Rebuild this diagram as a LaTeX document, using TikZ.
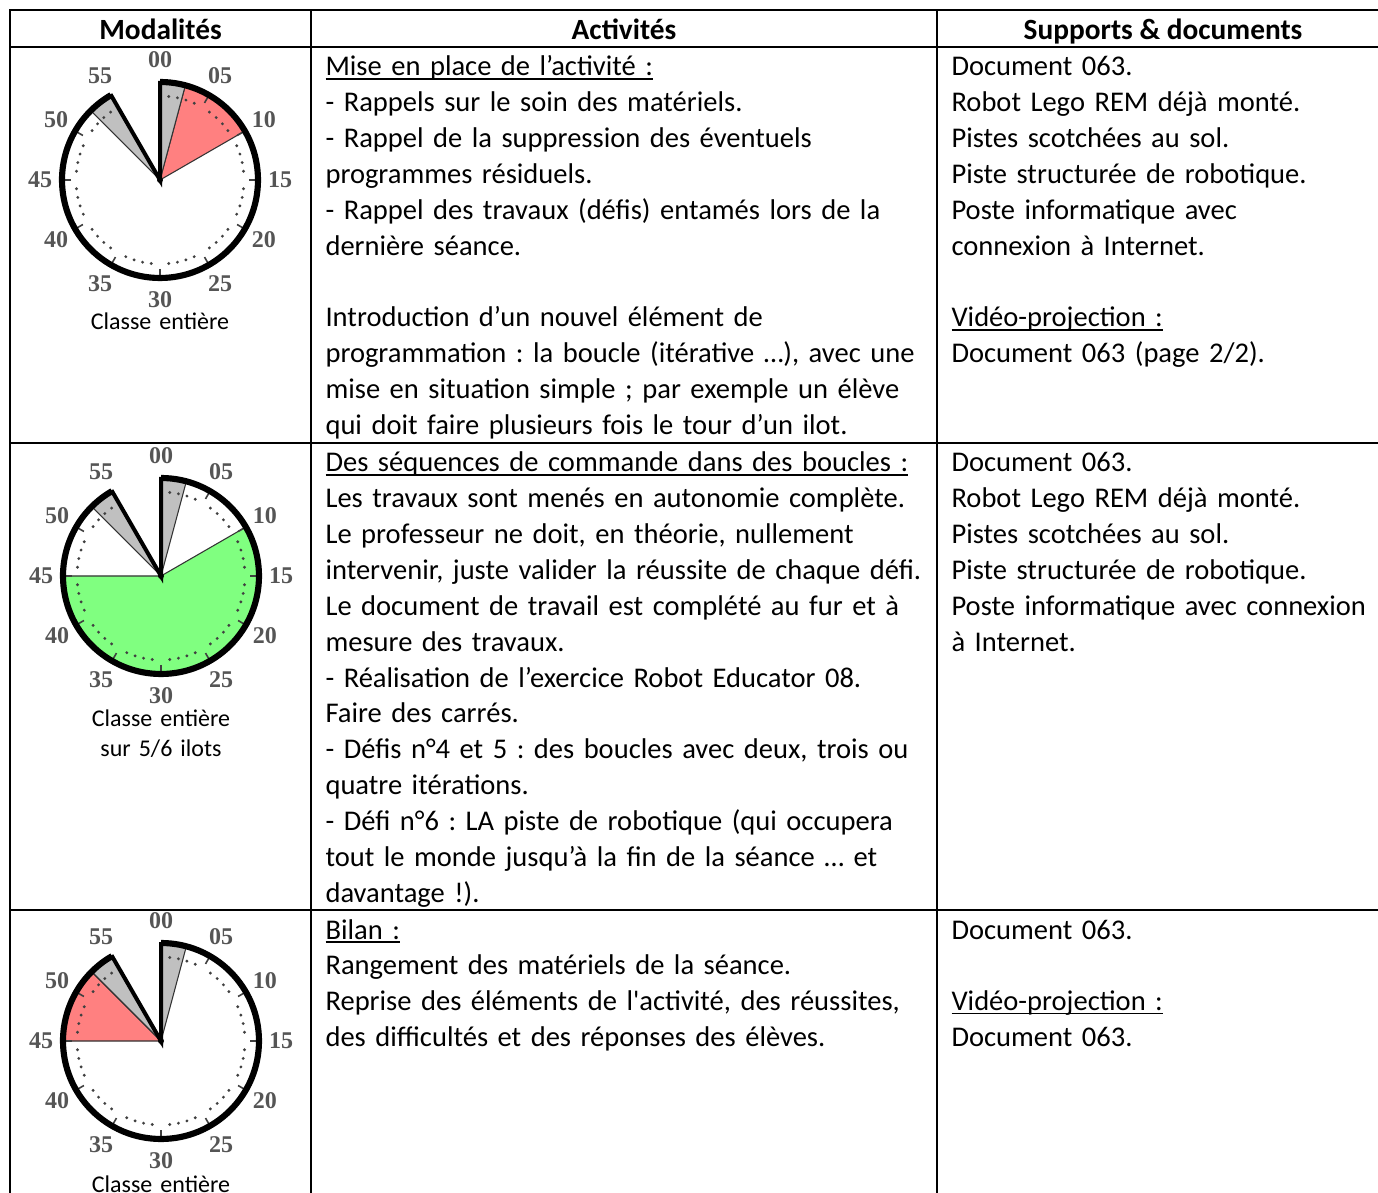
\documentclass[tikz,border=0pt]{standalone}
\usepackage{fontspec}
\setmainfont{Carlito}
\newfontfamily\chiffrefont{Liberation Serif}
\usepackage{tikz}
\usepackage{xcolor}
\frenchspacing

\definecolor{secteurrouge}{HTML}{FF8080}
\definecolor{secteurvert}{HTML}{80FF80}
\definecolor{secteurgris}{HTML}{C0C0C0}
\definecolor{chiffres}{HTML}{555555}

% texte souligne
\newlength{\soulignelg}
\newcommand{\souligne}[1]{\leavevmode\settowidth{\soulignelg}{#1}\rlap{\rule[-1.4pt]{\soulignelg}{0.55pt}}#1}

% minuteur : nom, centre, debut, fin (en minutes), couleur
\newcommand{\minuteur}[5]{%
  \begin{scope}[shift={(#2)}]
    \coordinate (#1) at (0,0);
    \fill[white] (0,0) -- (90:98) arc[start angle=90, end angle=-240, radius=98] -- cycle;
    \filldraw[fill=#5, secteur] (0,0) -- ({90-6*#3}:98)
      arc[start angle={90-6*#3}, end angle={90-6*#4}, radius=98] -- cycle;
    \filldraw[fill=secteurgris, secteur] (0,0) -- (90:98) arc[start angle=90, end angle=75, radius=98] -- cycle;
    \filldraw[fill=secteurgris, secteur] (0,0) -- (-225:98) arc[start angle=-225, end angle=-240, radius=98] -- cycle;
    \foreach \f in {0,5,...,50}
      \foreach \k in {1,2,3,4}
        \fill[black!75] ({90-6*(\f+\k)}:84) circle[radius=1.6];
    \foreach \m in {5,10,...,50}
      \draw[black!75, line width=0.6pt] ({90-6*\m}:89) -- ({90-6*\m}:98);
    \draw[line width=2.3pt] (90:98) arc[start angle=90, end angle=-240, radius=98];
    \draw[line width=1.5pt, line join=miter] (90:99) -- (0,0) -- (-240:99);
    \fill (0,0) circle[radius=3];
    \foreach \t [count=\i from 0] in {00,05,10,15,20,25,30,35,40,45,50,55}
      \node[clocknum] (#1-\t) at ({90-30*\i}:120) {\t};
  \end{scope}}

\begin{document}
\begin{tikzpicture}[
        x=0.375pt, y=0.375pt,
        rule/.style={line width=0.75pt},
        secteur/.style={draw=black!80, line width=0.4pt},
        clocknum/.style={
            inner sep=0pt,
            text=chiffres,
            font=\chiffrefont\bfseries\fontsize{9}{9}\selectfont
        },
        head/.style={
            inner sep=0pt,
            anchor=base,
            font=\fontsize{11}{13.44}\selectfont\bfseries
        },
        cell/.style={
            inner sep=0pt,
            anchor=base west,
            align=left,
            font=\fontsize{10.7}{13.44}\selectfont
        },
        caption/.style={
            inner sep=0pt,
            anchor=base,
            align=center,
            text width=120pt,
            font=\fontsize{9}{11}\selectfont
        }
    ]
    \useasboundingbox (0,0) rectangle (1378,-1193);

    % grille du tableau
    \draw[rule] (1378,-10) -- (10,-10) -- (10,-1193);
    \draw[rule] (10,-47) -- (1378,-47);
    \draw[rule] (10,-443) -- (1378,-443);
    \draw[rule] (10,-910) -- (1378,-910);
    \draw[rule] (311,-10) -- (311,-1193);
    \draw[rule] (937,-10) -- (937,-1193);

    % en-tetes
    \node[head] (hmod) at (160.5,-39.5) {Modalités};
    \node[head] (hact) at (624,-39.5) {Activités};
    \node[head] (hsup) at (1163,-39.5) {Supports \& documents};

    % modalites
    \minuteur{mn1}{160,-180}{2.5}{10}{secteurrouge}
    \minuteur{mn2}{161,-576}{10}{45}{secteurvert}
    \minuteur{mn3}{161,-1041}{45}{52.5}{secteurrouge}
    \node[caption] (mod1) at (160,-330) {Classe entière};
    \node[caption] (mod2) at (161,-727) {Classe entière\\sur 5/6 ilots};
    \node[caption] (mod3) at (161,-1192) {Classe entière};

    % activites
    \node[cell, text width=250pt] (act1) at (325,-76) {\souligne{Mise en place de l’activité :}\\
        - Rappels sur le soin des matériels.\\
        - Rappel de la suppression des éventuels\\
        programmes résiduels.\\
        - Rappel des travaux (défis) entamés lors de la\\
        dernière séance.\\[13.44pt]
        Introduction d’un nouvel élément de\\
        programmation : la boucle (itérative …), avec une\\
        mise en situation simple ; par exemple un élève\\
        qui doit faire plusieurs fois le tour d’un ilot.};
    \node[cell, text width=250pt] (act2) at (325,-472) {\souligne{Des séquences de commande dans des boucles :}\\
        Les travaux sont menés en autonomie complète.\\
        Le professeur ne doit, en théorie, nullement\\
        intervenir, juste valider la réussite de chaque défi.\\
        Le document de travail est complété au fur et à\\
        mesure des travaux.\\
        - Réalisation de l’exercice Robot Educator 08.\\
        Faire des carrés.\\
        - Défis n°4 et 5 : des boucles avec deux, trois ou\\
        quatre itérations.\\
        - Défi n°6 : LA piste de robotique (qui occupera\\
        tout le monde jusqu’à la fin de la séance … et\\
        davantage !).};
    \node[cell, text width=250pt] (act3) at (325,-939) {\souligne{Bilan :}\\
        Rangement des matériels de la séance.\\
        Reprise des éléments de l\textquotesingle activité, des réussites,\\
        des difficultés et des réponses des élèves.};

    % supports
    \node[cell, text width=170pt] (sup1) at (951,-76) {Document 063.\\
        Robot Lego REM déjà monté.\\
        Pistes scotchées au sol.\\
        Piste structurée de robotique.\\
        Poste informatique avec\\
        connexion à Internet.\\[13.44pt]
        \souligne{Vidéo-projection :}\\
        Document 063 (page 2/2).};
    \node[cell, text width=170pt] (sup2) at (951,-472) {Document 063.\\
        Robot Lego REM déjà monté.\\
        Pistes scotchées au sol.\\
        Piste structurée de robotique.\\
        Poste informatique avec connexion\\
        à Internet.};
    \node[cell, text width=170pt] (sup3) at (951,-939) {Document 063.\\[13.44pt]
        \souligne{Vidéo-projection :}\\
        Document 063.};
\end{tikzpicture}
\end{document}
